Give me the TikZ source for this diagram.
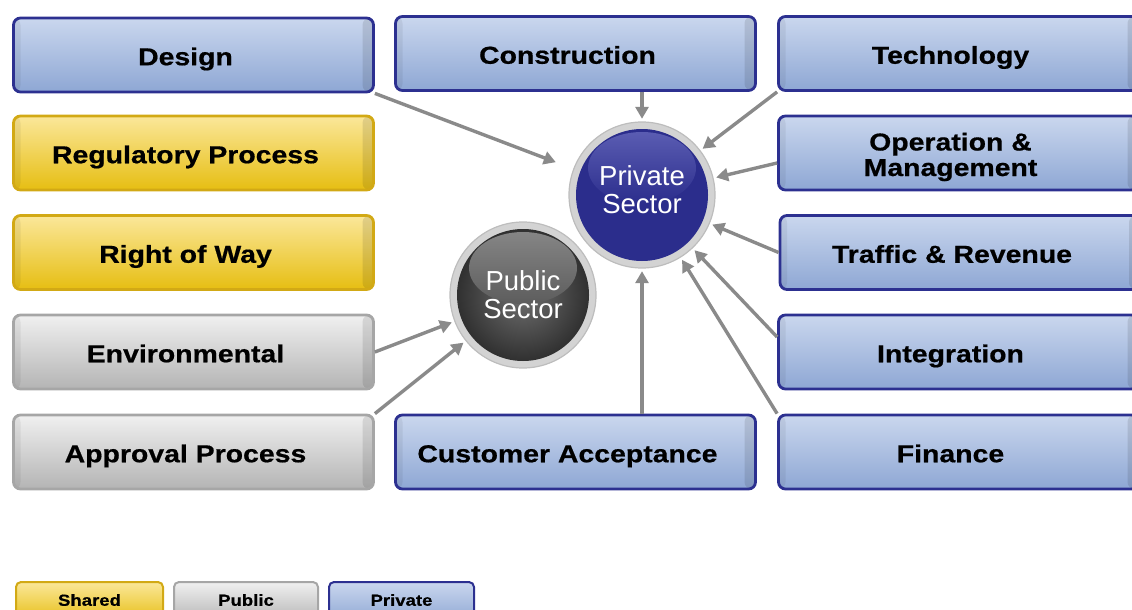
\documentclass[tikz,border=0pt]{standalone}
\usepackage{fontspec}
\setmainfont{Liberation Sans}
\newfontfamily\boxfont{Liberation Sans}[FakeStretch=1.16,FakeBold=0.6]
\usetikzlibrary{arrows.meta,calc}
\definecolor{bluetop}{HTML}{CAD7EE}
\definecolor{bluebot}{HTML}{8EA7D4}
\definecolor{bluebd}{HTML}{2C3090}
\definecolor{yeltop}{HTML}{FBE79A}
\definecolor{yelbot}{HTML}{E6BE12}
\definecolor{yelbd}{HTML}{D2A915}
\definecolor{graytop}{HTML}{F0F0F0}
\definecolor{graybot}{HTML}{B4B4B4}
\definecolor{graybd}{HTML}{A6A6A6}
\definecolor{arrowgray}{HTML}{8A8A8A}
\definecolor{ringgray}{HTML}{D3D3D3}
\definecolor{ringdark}{HTML}{BDBDBD}
\definecolor{privblue}{HTML}{2B2D8C}
\definecolor{privhi}{HTML}{5A5CB2}
\definecolor{pubdark}{HTML}{404040}
\definecolor{pubhi}{HTML}{858585}
\begin{document}
\begin{tikzpicture}[x=1pt,y=-1pt,
  box/.style={rectangle, rounded corners=7pt, line width=2.8pt,
    minimum width=360pt, minimum height=74pt, inner sep=0pt,
    path picture={
      \fill[black,opacity=0.10] ([xshift=-11pt]path picture bounding box.north east) rectangle (path picture bounding box.south east);
      \fill[black,opacity=0.06] (path picture bounding box.north west) rectangle ([xshift=7pt]path picture bounding box.south west);}},
  bluebox/.style={box, draw=bluebd, top color=bluetop, bottom color=bluebot},
  yelbox/.style={box, draw=yelbd, top color=yeltop, bottom color=yelbot},
  graybox/.style={box, draw=graybd, top color=graytop, bottom color=graybot},
  lbl/.style={font=\boxfont\bfseries\fontsize{24.5}{25.5}\selectfont, text=black,
    xshift=-8pt, yshift=-1.5pt, text height=17.5pt, text depth=0pt},
  lgbox/.style={rectangle, rounded corners=5pt, line width=2pt,
    minimum height=40pt, inner sep=0pt},
  lglbl/.style={font=\boxfont\bfseries\fontsize{16}{17}\selectfont, text=black,
    yshift=2pt, text height=11.5pt, text depth=0pt},
  ctext/.style={font=\fontsize{27.5}{28}\selectfont, text=white, align=center},
  sector/.style={circle, minimum size=146pt, inner sep=0pt},
  arr/.style={draw=arrowgray, line width=3.4pt, -{Triangle[length=12pt,width=13pt]}, shorten >=3pt}
]
\useasboundingbox (0,0) rectangle (1132,610);
\clip (0,0) rectangle (1132,610);

% left column
\node[bluebox, label={[lbl]center:Design}] (design) at (193.5,55) {};
\node[yelbox, label={[lbl]center:Regulatory Process}] (reg) at (193.5,153) {};
\node[yelbox, label={[lbl]center:Right of Way}] (row) at (193.5,252.5) {};
\node[graybox, label={[lbl]center:Environmental}] (env) at (193.5,352) {};
\node[graybox, label={[lbl]center:Approval Process}] (appr) at (193.5,452) {};
% middle column
\node[bluebox, label={[lbl]center:Construction}] (constr) at (575.5,53.5) {};
\node[bluebox, label={[lbl]center:Customer Acceptance}] (cust) at (575.5,452) {};
% right column
\node[bluebox, label={[lbl]center:Technology}] (tech) at (958.5,53.5) {};
\node[bluebox, label={[lbl, align=center, text height=43pt]center:{Operation \&\\Management}}] (oper) at (958.5,153) {};
\node[bluebox, label={[lbl]center:Traffic \& Revenue}] (traffic) at (960,252.5) {};
\node[bluebox, label={[lbl]center:Integration}] (integ) at (958.5,352) {};
\node[bluebox, label={[lbl]center:Finance}] (fin) at (958.5,452) {};

% private sector circle
\fill[ringgray, draw=ringdark, line width=1.2pt] (642,195) circle (73);
\fill[privblue] (642,195) circle (66);
\shade[top color=privhi, bottom color=privblue] (642,168) ellipse (54 and 36);
\node[sector, label={[ctext, yshift=5pt]center:{Private\\Sector}}] (priv) at (642,195) {};

% public sector circle
\fill[ringgray, draw=ringdark, line width=1.2pt] (523,295) circle (73);
\shade[inner color=pubdark!75!white, outer color=pubdark!75!black] (523,295) circle (66);
\shade[top color=pubhi, bottom color=pubdark!85!white] (523,268) ellipse (54 and 36);
\node[sector, label={[ctext]center:{Public\\Sector}}] (pub) at (523,295) {};

% legend
\node[lgbox, draw=yelbd, top color=yeltop, bottom color=yelbot, minimum width=147pt,
  label={[lglbl]center:Shared}] (lshared) at (89.5,602) {};
\node[lgbox, draw=graybd, top color=graytop, bottom color=graybot, minimum width=144pt,
  label={[lglbl]center:Public}] (lpublic) at (246,602) {};
\node[lgbox, draw=bluebd, top color=bluetop, bottom color=bluebot, minimum width=145pt,
  label={[lglbl]center:Private}] (lprivate) at (401.5,602) {};

% connectors
\draw[arr, shorten >=19pt] (design.south east) -- (priv);
\draw[arr] (constr.south -| priv) -- (priv);
\draw[arr] (tech.south west) -- (priv);
\draw[arr] ([yshift=-10pt]oper.west) -- (priv);
\draw[arr] (traffic.west) -- (priv);
\draw[arr] ([yshift=15pt]integ.west) -- (priv);
\draw[arr] (fin.north west) -- (priv);
\draw[arr] (cust.north -| priv) -- (priv);
\draw[arr] (env.east) -- (pub);
\draw[arr] (appr.north east) -- (pub);
\end{tikzpicture}
\end{document}
